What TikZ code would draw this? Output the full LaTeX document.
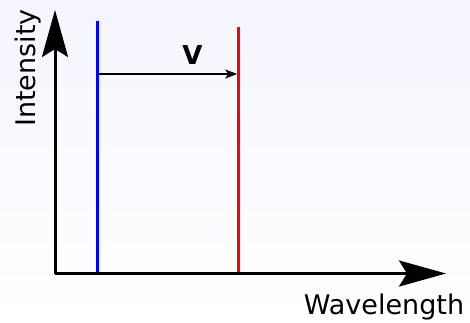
\documentclass[tikz,border=0pt]{standalone}
\usepackage{fontspec}
\setmainfont{DejaVu Sans}
\usetikzlibrary{arrows.meta}
\begin{document}
\begin{tikzpicture}[x=1pt,y=-1pt,
  axis/.style={line width=3pt,-{Stealth[length=47pt,width=26pt,inset=8pt]}},
  specline/.style={line width=2.6pt},
  shiftarrow/.style={line width=1.6pt,-{Stealth[length=12pt,width=9pt,inset=3pt]}},
  lbl/.style={font=\fontsize{27}{32}\selectfont,inner sep=0pt}]
\shade[top color=blue!4!white,bottom color=white] (0,0) rectangle (470,322);
\useasboundingbox (0,0) rectangle (470,322);
\coordinate (O) at (55,273.5);
\coordinate (ytip) at (55,10);
\coordinate (xtip) at (446,273.5);
\draw[axis] (O) -- (ytip);
\draw[axis] (O) -- (xtip);
\coordinate (btop) at (97.5,20.5);
\coordinate (bbot) at (97.5,272);
\coordinate (rtop) at (238.5,27);
\coordinate (rbot) at (238.5,272);
\draw[specline,blue] (btop) -- (bbot);
\draw[specline,red] (rtop) -- (rbot);
\coordinate (sa) at (98.8,74);
\coordinate (sb) at (237.2,74);
\draw[shiftarrow] (sa) -- (sb);
\node[inner sep=0pt,anchor=base,font=\fontsize{26}{30}\selectfont\bfseries] (v) at (192.5,64) {V};
\node[lbl,rotate=90,anchor=base] (int) at (35,68) {Intensity};
\node[lbl,anchor=base] (wl) at (384,314) {Wavelength};
\end{tikzpicture}
\end{document}
